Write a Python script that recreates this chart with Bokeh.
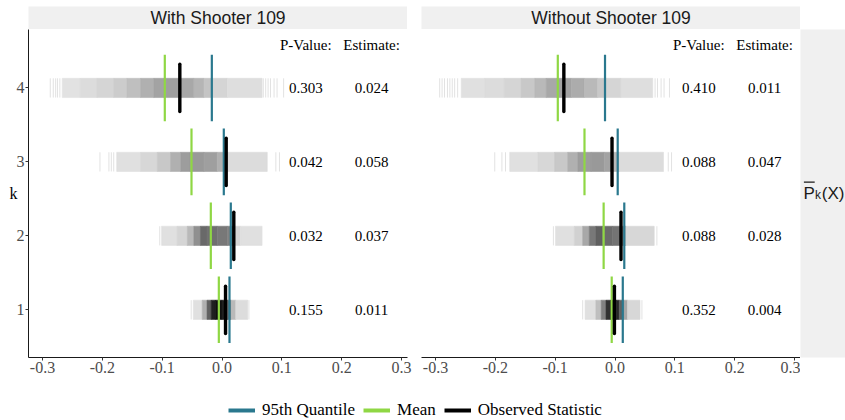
from bokeh.plotting import figure
from bokeh.models import Range1d, ColumnDataSource, Legend, LegendItem, Spacer, FixedTicker
from bokeh.layouts import row, column
from bokeh.core.properties import value
from bokeh.embed import file_html
from bokeh.resources import INLINE

# ---------------- data ----------------
k = [1, 2, 3, 4]
panel_titles = ["With Shooter 109", "Without Shooter 109"]
x_ticks = [-0.3, -0.2, -0.1, 0.0, 0.1, 0.2, 0.3]
x_tick_labels = ["-0.3", "-0.2", "-0.1", "0.0", "0.1", "0.2", "0.3"]
y_tick_labels = ["1", "2", "3", "4"]
legend_labels = ["95th Quantile", "Mean", "Observed Statistic"]

p_values_with = ["0.155", "0.032", "0.042", "0.303"]
estimates_with = ["0.011", "0.037", "0.058", "0.024"]
p_values_without = ["0.352", "0.088", "0.088", "0.410"]
estimates_without = ["0.004", "0.028", "0.047", "0.011"]

quantile_with = [0.0125, 0.0147, 0.003, -0.017]
mean_with = [-0.0053, -0.0187, -0.051, -0.0956]
observed_with = [0.0059, 0.0197, 0.007, -0.0705]
quantile_without = [0.013, 0.0155, 0.0045, -0.0167]
mean_without = [-0.0055, -0.019, -0.051, -0.0956]
observed_without = [-0.001, 0.010, -0.005, -0.0855]

# permutation distribution: bin edges and relative density (0 = sparse, 1 = dense), per k
with_k1_edges = [-0.048, -0.033, -0.025, -0.018, -0.011, 0.000, 0.009, 0.015, 0.023, 0.043]
with_k1_density = [0.01, 0.23, 0.60, 0.90, 0.97, 0.90, 0.53, 0.19, 0.03]
with_k2_edges = [-0.101, -0.075, -0.058, -0.047, -0.036, -0.025, -0.008, 0.009, 0.020, 0.031, 0.067]
with_k2_density = [0.01, 0.06, 0.19, 0.38, 0.56, 0.53, 0.49, 0.45, 0.06, 0.01]
with_k3_edges = [-0.176, -0.136, -0.108, -0.086, -0.069, -0.053, -0.030, -0.008, 0.006, 0.0756]
with_k3_density = [0.01, 0.05, 0.12, 0.23, 0.32, 0.34, 0.31, 0.23, 0.03]
with_k4_edges = [-0.267, -0.237, -0.209, -0.181, -0.159, -0.136, -0.114, -0.097, -0.069,
                 -0.047, -0.030, -0.016, 0.009, 0.067]
with_k4_density = [0.0, 0.03, 0.06, 0.10, 0.16, 0.23, 0.29, 0.31, 0.27, 0.21, 0.14, 0.06, 0.02]

without_k1_edges = [-0.050, -0.032, -0.023, -0.015, -0.007, 0.002, 0.007, 0.0145, 0.021, 0.0417]
without_k1_density = [0.01, 0.16, 0.45, 0.82, 0.94, 0.86, 0.60, 0.27, 0.05]
without_k2_edges = [-0.0995, -0.068, -0.054, -0.043, -0.032, -0.021, -0.004, 0.010, 0.018, 0.0655]
without_k2_density = [0.01, 0.08, 0.27, 0.49, 0.60, 0.55, 0.51, 0.38, 0.05]
without_k3_edges = [-0.176, -0.129, -0.101, -0.079, -0.062, -0.040, -0.018, -0.004, 0.007, 0.081]
without_k3_density = [0.01, 0.05, 0.12, 0.23, 0.32, 0.34, 0.29, 0.19, 0.03]
without_k4_edges = [-0.257, -0.218, -0.185, -0.157, -0.134, -0.115, -0.097, -0.073, -0.051,
                    -0.029, -0.015, 0.010, 0.063]
without_k4_density = [0.01, 0.03, 0.06, 0.12, 0.19, 0.27, 0.29, 0.25, 0.19, 0.12, 0.06, 0.02]

# isolated permutation values outside the dense band
with_outliers = [[-0.0515, 0.045], [-0.104], [-0.204, -0.189, -0.185, -0.181, 0.090, 0.096],
                 [-0.287, -0.282, -0.278, -0.275, -0.271, 0.069, 0.073, 0.077, 0.081, 0.087, 0.092, 0.103]]
without_outliers = [[-0.054, 0.045], [-0.103, 0.070], [-0.201, -0.189, -0.183, 0.089, 0.0945],
                    [-0.293, -0.289, -0.285, -0.280, -0.276, -0.272, -0.268, -0.263,
                     0.067, 0.071, 0.077, 0.082, 0.091]]

# ---------------- style ----------------
SERIF = "Liberation Serif"
SANS = "Liberation Sans"
TEAL = "#2A788E"
GREEN = "#8FD744"
BLACK = "#000000"
STRIP = "#F0F0F0"
X_RANGE = (-0.3234, 0.31)
Y_RANGE = (0.355, 4.79)
FRAME_W = 379
FRAME_H = 328
BOTTOM = 26
TOP_PAD = 6
STRIP_H = 23
PV_X = 0.14
EST_X = 0.25
HEAD_Y = 4.585


def gray(d):
    g = int(round(226 - d * 216))
    g = max(0, min(255, g))
    return "#%02x%02x%02x" % (g, g, g)


def strip_fig(title):
    s = figure(width=FRAME_W, height=STRIP_H, x_range=Range1d(0, 1), y_range=Range1d(0, 1),
               x_axis_location=None, y_axis_location=None, output_backend="svg",
               toolbar_location=None, min_border=0, outline_line_color=None,
               background_fill_color=STRIP, border_fill_color=STRIP)
    s.grid.visible = False
    s.text(x=[0.5], y=[0.5], text=[title], text_align="center", text_baseline="middle",
           text_font=value(SANS), text_font_size="17.5px", text_color="#1a1a1a")
    return s


def panel(left, edges_list, dens_list, outliers, q, m, o, pv, est):
    bl = 28 if left else 7
    br = 7 if left else 0
    kw = dict(width=bl + FRAME_W + br, height=FRAME_H + BOTTOM,
              x_range=Range1d(*X_RANGE), y_range=Range1d(*Y_RANGE),
              output_backend="svg", toolbar_location=None,
              min_border_left=bl, min_border_right=br,
              min_border_top=0, min_border_bottom=BOTTOM, outline_line_color=None,
              background_fill_color="white", border_fill_color="white")
    if not left:
        kw["y_axis_location"] = None
    p = figure(**kw)
    p.grid.visible = False

    # distribution bands
    L, R, B, T, C = [], [], [], [], []
    for kk, edges, dens in zip(k, edges_list, dens_list):
        for i, d in enumerate(dens):
            L.append(edges[i]); R.append(edges[i + 1])
            B.append(kk - 0.13); T.append(kk + 0.13); C.append(gray(d))
    p.quad(left="l", right="r", bottom="b", top="t", fill_color="c", line_color="c", line_width=0.6,
           source=ColumnDataSource(dict(l=L, r=R, b=B, t=T, c=C)))
    ox, oy0, oy1 = [], [], []
    for kk, outs in zip(k, outliers):
        for v in outs:
            ox.append(v); oy0.append(kk - 0.13); oy1.append(kk + 0.13)
    p.segment(x0=ox, y0=oy0, x1=ox, y1=oy1, line_color="#e2e2e2", line_width=1)

    y0c = [kk - 0.45 for kk in k]
    y1c = [kk + 0.45 for kk in k]
    p.segment(x0=q, y0=y0c, x1=q, y1=y1c, line_color=TEAL, line_width=2.2)
    p.segment(x0=m, y0=y0c, x1=m, y1=y1c, line_color=GREEN, line_width=2.2)
    p.segment(x0=o, y0=[kk - 0.32 for kk in k], x1=o, y1=[kk + 0.32 for kk in k],
              line_color=BLACK, line_width=3.4, line_cap="round")

    tf = dict(text_align="center", text_baseline="middle", text_font=value(SERIF),
              text_font_size="15px", text_color="#000000")
    p.text(x=[PV_X] * 4, y=k, text=pv, **tf)
    p.text(x=[EST_X] * 4, y=k, text=est, **tf)
    p.text(x=[PV_X, EST_X], y=[HEAD_Y, HEAD_Y], text=["P-Value:", "Estimate:"], **tf)

    ax = p.xaxis[0]
    ax.ticker = FixedTicker(ticks=x_ticks)
    ax.major_label_overrides = {t: lab for t, lab in zip(x_ticks, x_tick_labels)}
    ax.axis_line_color = "#1a1a1a"
    ax.axis_line_width = 1
    ax.major_tick_out = 3
    ax.major_tick_in = 0
    ax.minor_tick_line_color = None
    ax.major_tick_line_color = "#333333"
    ax.major_label_standoff = 1
    ax.major_label_text_font = SERIF
    ax.major_label_text_font_size = "16px"
    ax.major_label_text_color = "#4d4d4d"
    if left:
        ay = p.yaxis[0]
        ay.ticker = FixedTicker(ticks=k)
        ay.major_label_overrides = {t: lab for t, lab in zip(k, y_tick_labels)}
        ay.axis_line_color = "#1a1a1a"
        ay.axis_line_width = 1
        ay.major_tick_out = 3
        ay.major_tick_in = 0
        ay.minor_tick_line_color = None
        ay.major_tick_line_color = "#333333"
        ay.major_label_standoff = 1
        ay.major_label_text_font = SERIF
        ay.major_label_text_font_size = "16px"
        ay.major_label_text_color = "#4d4d4d"
        ay.axis_label = "k"
        ay.axis_label_standoff = -4
        ay.axis_label_text_font = SERIF
        ay.axis_label_text_font_style = "normal"
        ay.axis_label_text_font_size = "16px"
        ay.axis_label_text_color = "#000000"
        if "axis_label_orientation" in ay.properties():
            ay.axis_label_orientation = "horizontal"
    return p


pL = panel(True, [with_k1_edges, with_k2_edges, with_k3_edges, with_k4_edges],
           [with_k1_density, with_k2_density, with_k3_density, with_k4_density],
           with_outliers, quantile_with, mean_with, observed_with, p_values_with, estimates_with)
pR = panel(False, [without_k1_edges, without_k2_edges, without_k3_edges, without_k4_edges],
           [without_k1_density, without_k2_density, without_k3_density, without_k4_density],
           without_outliers, quantile_without, mean_without, observed_without,
           p_values_without, estimates_without)

# right-hand strip with the row label (coordinates in pixels of the strip)
SW = 45
pS = figure(width=SW, height=FRAME_H + BOTTOM, x_range=Range1d(0, SW), y_range=Range1d(0, FRAME_H),
            x_axis_location=None, y_axis_location=None, output_backend="svg", toolbar_location=None,
            min_border_left=0, min_border_right=0, min_border_top=0, min_border_bottom=BOTTOM,
            outline_line_color=None, background_fill_color=STRIP, border_fill_color="white")
pS.grid.visible = False
mid = 164
pS.text(x=[3], y=[mid], text=["P"], text_align="left", text_baseline="middle",
        text_font=value(SANS), text_font_size="17px", text_color="#1a1a1a")
pS.text(x=[14.6], y=[mid - 1.5], text=["k"], text_align="left", text_baseline="middle",
        text_font=value(SANS), text_font_size="12px", text_color="#1a1a1a")
pS.text(x=[21.3], y=[mid], text=["(X)"], text_align="left", text_baseline="middle",
        text_font=value(SANS), text_font_size="17px", text_color="#1a1a1a")
pS.segment(x0=[3.4], y0=[mid + 11.3], x1=[14.2], y1=[mid + 11.3], line_color="#1a1a1a",
           line_width=1.2)

# legend
LEG_H = 420 - TOP_PAD - STRIP_H - FRAME_H - BOTTOM
pLeg = figure(width=845, height=LEG_H, x_range=Range1d(0, 1), y_range=Range1d(0, 1),
              x_axis_location=None, y_axis_location=None, output_backend="svg",
              toolbar_location=None, min_border=0, outline_line_color=None)
pLeg.grid.visible = False
nan = float("nan")
r1 = pLeg.line(x=[nan], y=[nan], line_color=TEAL, line_width=4)
r2 = pLeg.line(x=[nan], y=[nan], line_color=GREEN, line_width=4)
r3 = pLeg.line(x=[nan], y=[nan], line_color=BLACK, line_width=4)
leg = Legend(items=[LegendItem(label=legend_labels[0], renderers=[r1]),
                    LegendItem(label=legend_labels[1], renderers=[r2]),
                    LegendItem(label=legend_labels[2], renderers=[r3])],
             orientation="horizontal", location=(228, 0), glyph_width=27, glyph_height=18,
             label_height=18, label_standoff=7, spacing=8, padding=0, margin=0,
             border_line_color=None, background_fill_alpha=0,
             label_text_font=SERIF, label_text_font_size="17px", label_text_color="#000000")
pLeg.add_layout(leg)

top = row(Spacer(width=28, height=STRIP_H), strip_fig(panel_titles[0]), Spacer(width=14, height=STRIP_H),
          strip_fig(panel_titles[1]), Spacer(width=SW, height=STRIP_H))
middle = row(pL, pR, pS)
layout = column(Spacer(width=845, height=TOP_PAD), top, middle, pLeg)

open("out.html", "w").write(file_html(layout, INLINE))
